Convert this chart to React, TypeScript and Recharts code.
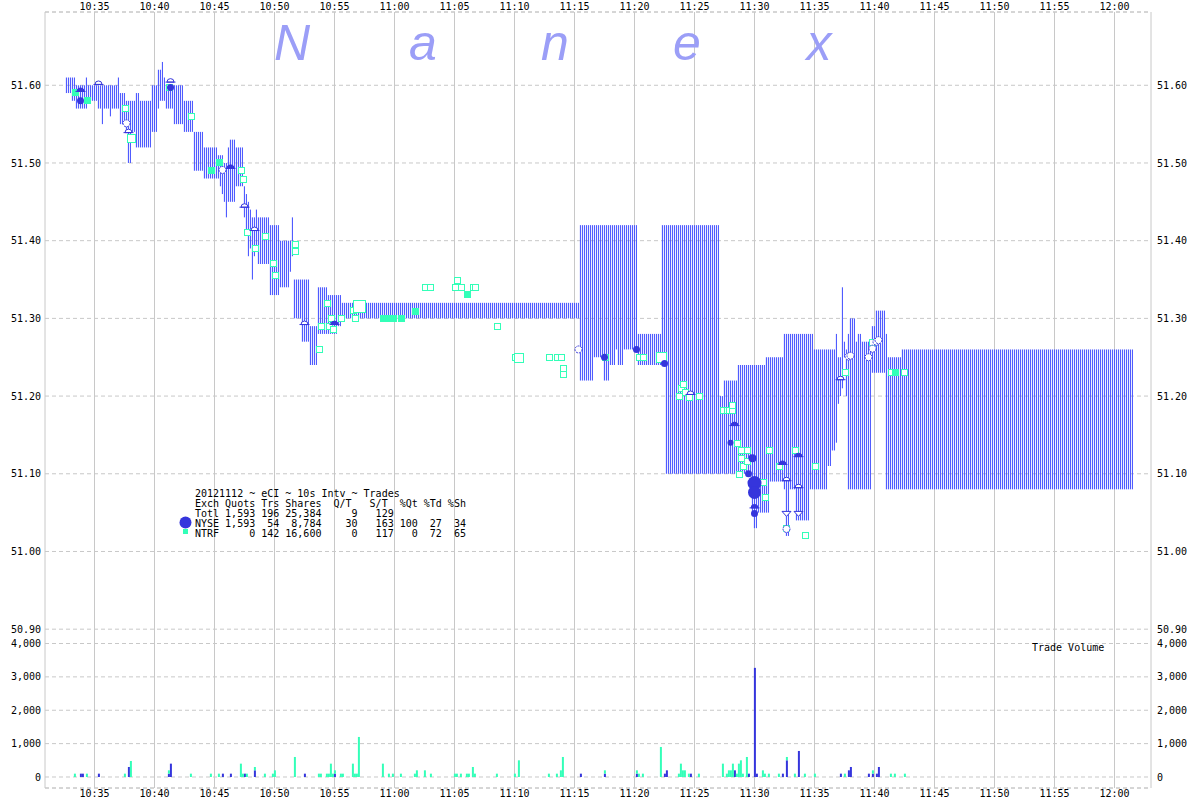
import React from 'react';
import { ComposedChart, BarChart, Bar, Scatter, XAxis, YAxis, CartesianGrid } from 'recharts';

const FONT = "'DejaVu Sans Mono', monospace";
const QUOTE_BLUE = '#3d4bff';
const NYSE_BLUE = '#3535dc';
const NTRF_TEAL = '#33ffb8';
const GRID = '#c8c8c8';

const timeTicks = ['10:35', '10:40', '10:45', '10:50', '10:55', '11:00', '11:05', '11:10', '11:15', '11:20', '11:25', '11:30', '11:35', '11:40', '11:45', '11:50', '11:55', '12:00'];
const priceTicks = [50.9, 51.0, 51.1, 51.2, 51.3, 51.4, 51.5, 51.6];
const volumeTicks = [0, 1000, 2000, 3000, 4000];

// NBBO range per 10s interval: [first interval, last interval, low, high]
const quoteRuns: [string, string, number, number][] = [
  ['10:32:40', '10:33:00', 51.59, 51.61],
  ['10:33:10', '10:33:20', 51.58, 51.61],
  ['10:33:30', '10:34:10', 51.57, 51.60],
  ['10:34:20', '10:34:20', 51.57, 51.61],
  ['10:34:30', '10:35:10', 51.58, 51.60],
  ['10:35:20', '10:35:30', 51.57, 51.60],
  ['10:35:40', '10:35:40', 51.55, 51.60],
  ['10:35:50', '10:36:10', 51.57, 51.60],
  ['10:36:20', '10:36:20', 51.56, 51.60],
  ['10:36:30', '10:36:50', 51.57, 51.60],
  ['10:37:00', '10:37:00', 51.57, 51.61],
  ['10:37:10', '10:37:30', 51.55, 51.59],
  ['10:37:40', '10:37:40', 51.54, 51.58],
  ['10:37:50', '10:38:00', 51.50, 51.58],
  ['10:38:10', '10:38:20', 51.54, 51.58],
  ['10:38:30', '10:38:40', 51.52, 51.59],
  ['10:38:50', '10:39:40', 51.52, 51.58],
  ['10:39:50', '10:40:10', 51.54, 51.60],
  ['10:40:20', '10:40:20', 51.57, 51.62],
  ['10:40:30', '10:40:30', 51.58, 51.62],
  ['10:40:40', '10:40:40', 51.58, 51.63],
  ['10:40:50', '10:40:50', 51.58, 51.61],
  ['10:41:00', '10:41:30', 51.57, 51.60],
  ['10:41:40', '10:42:20', 51.55, 51.60],
  ['10:42:30', '10:43:10', 51.54, 51.58],
  ['10:43:20', '10:44:00', 51.49, 51.54],
  ['10:44:10', '10:45:10', 51.48, 51.52],
  ['10:45:20', '10:45:20', 51.48, 51.51],
  ['10:45:30', '10:45:30', 51.47, 51.51],
  ['10:45:40', '10:45:40', 51.46, 51.51],
  ['10:45:50', '10:45:50', 51.45, 51.50],
  ['10:46:00', '10:46:00', 51.43, 51.50],
  ['10:46:10', '10:46:10', 51.45, 51.52],
  ['10:46:20', '10:46:40', 51.45, 51.53],
  ['10:46:50', '10:47:20', 51.47, 51.52],
  ['10:47:30', '10:47:30', 51.43, 51.47],
  ['10:47:40', '10:47:40', 51.41, 51.46],
  ['10:47:50', '10:47:50', 51.38, 51.45],
  ['10:48:00', '10:48:00', 51.39, 51.44],
  ['10:48:10', '10:48:10', 51.35, 51.43],
  ['10:48:20', '10:48:20', 51.38, 51.43],
  ['10:48:30', '10:48:30', 51.39, 51.44],
  ['10:48:40', '10:49:30', 51.37, 51.43],
  ['10:49:40', '10:50:20', 51.33, 51.42],
  ['10:50:30', '10:51:10', 51.34, 51.40],
  ['10:51:20', '10:51:20', 51.36, 51.40],
  ['10:51:30', '10:51:30', 51.38, 51.43],
  ['10:51:40', '10:52:10', 51.30, 51.35],
  ['10:52:20', '10:52:50', 51.27, 51.35],
  ['10:53:00', '10:53:30', 51.24, 51.29],
  ['10:53:40', '10:54:20', 51.28, 51.34],
  ['10:54:30', '10:55:10', 51.28, 51.33],
  ['10:55:20', '10:55:30', 51.29, 51.33],
  ['10:55:40', '11:15:20', 51.30, 51.32],
  ['11:15:30', '11:16:30', 51.22, 51.42],
  ['11:16:40', '11:17:20', 51.25, 51.42],
  ['11:17:30', '11:17:50', 51.22, 51.42],
  ['11:18:00', '11:18:20', 51.24, 51.42],
  ['11:18:30', '11:18:30', 51.26, 51.42],
  ['11:18:40', '11:19:00', 51.24, 51.42],
  ['11:19:10', '11:20:10', 51.26, 51.42],
  ['11:20:20', '11:22:10', 51.24, 51.28],
  ['11:22:20', '11:22:30', 51.24, 51.42],
  ['11:22:40', '11:27:00', 51.10, 51.42],
  ['11:27:10', '11:27:20', 51.10, 51.20],
  ['11:27:30', '11:28:30', 51.10, 51.22],
  ['11:28:40', '11:29:40', 51.10, 51.24],
  ['11:29:50', '11:29:50', 51.05, 51.24],
  ['11:30:00', '11:30:10', 51.03, 51.24],
  ['11:30:20', '11:30:50', 51.05, 51.24],
  ['11:31:00', '11:31:10', 51.05, 51.25],
  ['11:31:20', '11:32:20', 51.09, 51.25],
  ['11:32:30', '11:32:30', 51.08, 51.28],
  ['11:32:40', '11:32:50', 51.02, 51.28],
  ['11:33:00', '11:33:20', 51.08, 51.28],
  ['11:33:30', '11:34:30', 51.04, 51.28],
  ['11:34:40', '11:34:50', 51.08, 51.28],
  ['11:35:00', '11:36:00', 51.08, 51.26],
  ['11:36:10', '11:36:20', 51.11, 51.26],
  ['11:36:30', '11:36:40', 51.13, 51.26],
  ['11:36:50', '11:36:50', 51.14, 51.28],
  ['11:37:00', '11:37:00', 51.19, 51.25],
  ['11:37:10', '11:37:10', 51.20, 51.25],
  ['11:37:20', '11:37:20', 51.21, 51.34],
  ['11:37:30', '11:37:30', 51.25, 51.27],
  ['11:37:40', '11:37:40', 51.20, 51.26],
  ['11:37:50', '11:37:50', 51.08, 51.28],
  ['11:38:00', '11:38:20', 51.08, 51.30],
  ['11:38:30', '11:38:30', 51.08, 51.27],
  ['11:38:40', '11:38:50', 51.08, 51.28],
  ['11:39:00', '11:39:40', 51.08, 51.27],
  ['11:39:50', '11:40:00', 51.23, 51.29],
  ['11:40:10', '11:40:50', 51.23, 51.31],
  ['11:41:00', '11:41:00', 51.08, 51.28],
  ['11:41:10', '11:42:10', 51.08, 51.25],
  ['11:42:20', '12:01:30', 51.08, 51.26],
];

// trade volume per 10s interval
const nyseVolume: [string, number][] = [
  ['10:33:50', 100], ['10:34:00', 100], ['10:35:20', 100], ['10:37:50', 300], ['10:41:10', 100],
  ['10:41:20', 400], ['10:45:40', 100], ['10:46:20', 100], ['10:47:30', 100], ['10:48:20', 200],
  ['10:52:30', 100], ['10:55:00', 100], ['11:15:30', 100], ['11:17:30', 100], ['11:20:10', 100],
  ['11:22:30', 100], ['11:22:40', 200], ['11:24:40', 100], ['11:28:20', 200], ['11:29:30', 100],
  ['11:30:00', 3270], ['11:30:10', 100], ['11:32:20', 100], ['11:32:40', 500], ['11:33:40', 780],
  ['11:37:10', 100], ['11:37:50', 200], ['11:38:00', 300], ['11:39:30', 100], ['11:39:50', 100],
  ['11:40:10', 100], ['11:40:20', 300],
];
const ntrfVolume: [string, number][] = [
  ['10:33:20', 100], ['10:34:20', 100], ['10:37:30', 100], ['10:38:00', 480], ['10:41:10', 100],
  ['10:43:00', 100], ['10:44:40', 100], ['10:45:20', 100], ['10:47:10', 400], ['10:47:20', 100],
  ['10:47:40', 100], ['10:48:20', 100], ['10:49:10', 100], ['10:49:50', 100], ['10:50:00', 200],
  ['10:51:40', 600], ['10:53:40', 100], ['10:53:50', 100], ['10:54:20', 100], ['10:54:30', 100],
  ['10:54:40', 400], ['10:54:50', 100], ['10:55:00', 100], ['10:55:30', 100], ['10:55:40', 100],
  ['10:56:30', 400], ['10:56:40', 100], ['10:56:50', 100], ['10:57:00', 1200], ['10:59:00', 400],
  ['10:59:30', 100], ['10:59:50', 100], ['11:00:30', 100], ['11:01:40', 100], ['11:01:50', 200],
  ['11:02:30', 200], ['11:03:00', 100], ['11:05:00', 100], ['11:05:10', 100], ['11:05:30', 100],
  ['11:06:00', 100], ['11:06:10', 100], ['11:06:30', 300], ['11:06:40', 100], ['11:08:30', 100],
  ['11:10:00', 100], ['11:10:20', 500], ['11:12:50', 100], ['11:13:30', 100], ['11:13:50', 200],
  ['11:14:00', 600], ['11:17:30', 100], ['11:20:10', 100], ['11:20:20', 100], ['11:20:40', 100],
  ['11:22:10', 900], ['11:23:40', 100], ['11:23:50', 400], ['11:24:00', 200], ['11:24:10', 200],
  ['11:24:30', 100], ['11:25:20', 100], ['11:27:20', 400], ['11:27:40', 100], ['11:27:50', 200],
  ['11:28:00', 200], ['11:28:10', 400], ['11:28:30', 100], ['11:28:40', 400], ['11:28:50', 500],
  ['11:29:00', 100], ['11:29:20', 600], ['11:30:40', 200], ['11:30:50', 100], ['11:31:10', 100],
  ['11:32:00', 100], ['11:32:40', 100], ['11:33:20', 100], ['11:34:10', 100], ['11:35:00', 100],
  ['11:37:30', 100], ['11:39:50', 100], ['11:41:20', 100], ['11:41:40', 100], ['11:42:30', 100],
];

// NYSE trades: [time, price, radius]
const nyseDots: [string, number, number][] = [
  ['10:33:50', 51.58, 3.5], ['10:41:20', 51.597, 3.5], ['11:17:30', 51.25, 3.5], ['11:20:10', 51.26, 3.5],
  ['11:22:30', 51.242, 3.5], ['11:28:00', 51.14, 3], ['11:29:30', 51.10, 3.5], ['11:29:50', 51.12, 4],
  ['11:30:00', 51.088, 7], ['11:30:00', 51.076, 6.5], ['11:30:00', 51.049, 3.5],
];
const nyseDomesFilled: [string, number][] = [
  ['10:33:50', 51.594], ['10:46:20', 51.495], ['10:55:00', 51.294], ['11:28:20', 51.164],
  ['11:30:00', 51.058], ['11:32:20', 51.114], ['11:33:40', 51.124],
];
const nyseDomesHollow: [string, number][] = [
  ['10:35:20', 51.603], ['10:37:50', 51.541], ['10:41:20', 51.606], ['10:47:30', 51.445],
  ['10:48:20', 51.415], ['10:52:30', 51.294], ['11:24:40', 51.204], ['11:32:40', 51.093],
  ['11:33:40', 51.084], ['11:37:10', 51.223],
];
const nyseRings: [string, number][] = [
  ['10:37:40', 51.551], ['10:45:40', 51.491], ['11:15:20', 51.26], ['11:32:40', 51.029],
  ['11:37:50', 51.251], ['11:38:00', 51.252], ['11:39:30', 51.25], ['11:39:50', 51.261],
  ['11:40:10', 51.27], ['11:40:20', 51.272],
];
const nyseDownTriangles: [string, number][] = [['11:32:40', 51.049], ['11:33:40', 51.049]];

// NTRF trades: [time, price, size]
const ntrfFilled: [string, number, number][] = [
  ['10:33:20', 51.591, 7], ['10:34:20', 51.581, 7], ['10:44:40', 51.491, 7], ['10:45:20', 51.501, 7],
  ['10:59:00', 51.30, 7], ['10:59:30', 51.30, 7], ['10:59:50', 51.30, 7], ['11:00:30', 51.30, 7],
  ['11:01:40', 51.31, 7], ['11:06:00', 51.331, 7], ['11:41:40', 51.231, 7],
];
const ntrfHollow: [string, number, number][] = [
  ['10:37:30', 51.571, 7], ['10:38:00', 51.532, 9], ['10:41:10', 51.598, 7], ['10:43:00', 51.56, 7],
  ['10:47:10', 51.491, 7], ['10:47:20', 51.48, 7], ['10:47:40', 51.411, 7], ['10:48:20', 51.391, 7],
  ['10:49:10', 51.406, 7], ['10:49:50', 51.371, 7], ['10:50:00', 51.356, 7], ['10:51:40', 51.396, 7],
  ['10:51:40', 51.387, 7], ['10:53:40', 51.26, 7], ['10:53:50', 51.29, 7], ['10:54:20', 51.32, 7],
  ['10:54:30', 51.29, 7], ['10:54:40', 51.30, 7], ['10:54:50', 51.286, 7], ['10:55:30', 51.30, 7],
  ['10:56:30', 51.311, 7], ['10:56:40', 51.30, 7], ['10:57:00', 51.316, 13], ['11:02:30', 51.34, 7],
  ['11:03:00', 51.34, 7], ['11:05:00', 51.34, 7], ['11:05:10', 51.35, 7], ['11:05:30', 51.34, 7],
  ['11:06:30', 51.34, 7], ['11:06:40', 51.34, 7], ['11:08:30', 51.29, 7], ['11:10:00', 51.25, 7],
  ['11:10:20', 51.25, 10], ['11:12:50', 51.25, 7], ['11:13:30', 51.25, 7], ['11:13:50', 51.25, 7],
  ['11:14:00', 51.236, 7], ['11:14:00', 51.229, 7], ['11:17:30', 51.25, 7], ['11:20:20', 51.25, 7],
  ['11:20:40', 51.25, 7], ['11:22:10', 51.25, 11], ['11:23:40', 51.20, 7], ['11:23:50', 51.21, 7],
  ['11:24:00', 51.215, 7], ['11:24:10', 51.205, 7], ['11:24:30', 51.199, 7], ['11:25:20', 51.20, 7],
  ['11:27:20', 51.182, 7], ['11:27:40', 51.182, 7], ['11:27:50', 51.182, 7], ['11:28:10', 51.182, 7],
  ['11:28:10', 51.188, 7], ['11:28:30', 51.14, 7], ['11:28:40', 51.10, 7], ['11:28:50', 51.13, 7],
  ['11:28:50', 51.12, 7], ['11:29:00', 51.11, 7], ['11:29:20', 51.13, 7], ['11:29:20', 51.116, 7],
  ['11:30:40', 51.09, 7], ['11:30:50', 51.07, 7], ['11:31:10', 51.13, 7], ['11:32:00', 51.11, 7],
  ['11:32:40', 51.03, 7], ['11:33:20', 51.13, 7], ['11:34:10', 51.021, 7], ['11:35:00', 51.11, 7],
  ['11:37:30', 51.231, 7], ['11:39:50', 51.27, 7], ['11:41:20', 51.231, 7], ['11:42:30', 51.231, 7],
];

const legendLines = [
  '20121112 ~ eCI ~ 10s Intv ~ Trades',
  'Exch Quots Trs Shares  Q/T   S/T  %Qt %Td %Sh',
  'Totl 1,593 196 25,384     9   129',
  'NYSE 1,593  54  8,784    30   163 100  27  34',
  'NTRF     0 142 16,600     0   117   0  72  65',
];
const watermark = ['N', 'a', 'n', 'e', 'x'];

// ---------- helpers ----------
const sec = (s: string) => {
  const p = s.split(':').map(Number);
  return p[0] * 3600 + p[1] * 60 + (p[2] || 0);
};
const fmtTime = (t: number) => {
  const h = Math.floor(t / 3600);
  const m = Math.round((t - h * 3600) / 60);
  return `${h}:${String(m).padStart(2, '0')}`;
};

const X_DOMAIN: [number, number] = [37852.5, 43382.5];
const P_DOMAIN: [number, number] = [50.6956, 51.6943];
const V_DOMAIN: [number, number] = [-329.6, 22921];
const xTicks = timeTicks.map(sec);

const quoteRows: { t: number; range: [number, number] }[] = [];
quoteRuns.forEach(([a, b, lo, hi]) => {
  for (let t = sec(a); t <= sec(b); t += 10) quoteRows.push({ t, range: [lo, hi] });
});

const volMap = new Map<number, { t: number; nyse: number; ntrf: number }>();
const addVol = (list: [string, number][], key: 'nyse' | 'ntrf') =>
  list.forEach(([ts, v]) => {
    const t = sec(ts);
    if (!volMap.has(t)) volMap.set(t, { t, nyse: 0, ntrf: 0 });
    volMap.get(t)![key] = v;
  });
addVol(nyseVolume, 'nyse');
addVol(ntrfVolume, 'ntrf');
const volRows = Array.from(volMap.values()).sort((a, b) => a.t - b.t);

const pts = (list: [string, number, number?][]) => list.map(([ts, p, s]) => ({ t: sec(ts), p, s }));

// ---------- shapes ----------
const QuoteLine = (props: any) => {
  const { x, y, width, height } = props;
  if (height == null || isNaN(height)) return null;
  return <rect x={x + width / 2 - 0.5} y={y} width={1} height={Math.max(Math.abs(height), 1)} fill={QUOTE_BLUE} />;
};
const volShape = (color: string) => (props: any) => {
  const { x, y, width, height } = props;
  if (!height || height <= 0) return null;
  return <rect x={x + width / 2 - 0.5} y={y} width={2} height={height} fill={color} />;
};
const squareShape = (filled: boolean) => (props: any) => {
  const { cx, cy, payload } = props;
  const s = payload.s || 7;
  const h = (s - 1) / 2;
  return (
    <rect x={Math.round(cx - h) + 0.5} y={Math.round(cy - h) + 0.5} width={s - 1} height={s - 1}
      fill={filled ? NTRF_TEAL : '#ffffff'} stroke={NTRF_TEAL} strokeWidth={1} />
  );
};
const dotShape = (props: any) => {
  const { cx, cy, payload } = props;
  const r = payload.s || 3.5;
  return <circle cx={cx} cy={cy} r={r} fill={NYSE_BLUE} />;
};
const ringShape = (props: any) => {
  const { cx, cy } = props;
  return <circle cx={cx} cy={cy} r={3.5} fill="#ffffff" stroke={NYSE_BLUE} strokeWidth={1} strokeDasharray="2 1" />;
};
const domeShape = (filled: boolean) => (props: any) => {
  const { cx, cy } = props;
  return (
    <g>
      <path d={`M${cx - 3.5},${cy + 1.5} A3.5,3.5 0 0 1 ${cx + 3.5},${cy + 1.5} Z`}
        fill={filled ? NYSE_BLUE : '#ffffff'} stroke={NYSE_BLUE} strokeWidth={1} />
      <path d={`M${cx - 5},${cy + 1.5} H${cx + 5}`} stroke={NYSE_BLUE} strokeWidth={1} />
    </g>
  );
};
const downTriShape = (props: any) => {
  const { cx, cy } = props;
  return (
    <path d={`M${cx - 4.5},${cy - 2} H${cx + 4.5} L${cx},${cy + 3} Z`} fill="#ffffff" stroke={NYSE_BLUE} strokeWidth={1} />
  );
};

const tickStyle = { fontSize: 10, fontFamily: FONT, fill: '#000' };

export default function App() {
  return (
    <div style={{ position: 'absolute', left: 0, top: 0, width: 1200, height: 800, background: '#fff', overflow: 'hidden' }}>
      <div style={{ position: 'absolute', left: 0, top: 0 }}>
        <ComposedChart width={1200} height={800} data={quoteRows} margin={{ top: 0, right: 0, bottom: 0, left: 0 }}>
          <CartesianGrid xAxisId="b" yAxisId="pl" horizontal={false} stroke={GRID} />
          <CartesianGrid xAxisId="b" yAxisId="pl" vertical={false} stroke={GRID} strokeDasharray="4 3" />
          <XAxis xAxisId="t" orientation="top" type="number" dataKey="t" domain={X_DOMAIN} allowDataOverflow
            ticks={xTicks} interval={0} tickFormatter={fmtTime} height={12} tickLine={false} axisLine={false}
            tickSize={0} tickMargin={2} tick={tickStyle} />
          <XAxis xAxisId="b" orientation="bottom" type="number" dataKey="t" domain={X_DOMAIN} allowDataOverflow
            ticks={xTicks} interval={0} tickFormatter={fmtTime} height={12} tickLine={false} axisLine={false}
            tickSize={0} tickMargin={2} tick={tickStyle} />
          <YAxis yAxisId="pl" orientation="left" type="number" domain={P_DOMAIN} allowDataOverflow ticks={priceTicks}
            interval={0} width={45} tickFormatter={(v: number) => v.toFixed(2)} tickLine={false} axisLine={false}
            tickSize={0} tickMargin={4} tick={tickStyle} />
          <YAxis yAxisId="pr" orientation="right" type="number" domain={P_DOMAIN} allowDataOverflow ticks={priceTicks}
            interval={0} width={49} tickFormatter={(v: number) => v.toFixed(2)} tickLine={false} axisLine={false}
            tickSize={0} tickMargin={6} tick={tickStyle} />
          <Bar xAxisId="b" yAxisId="pl" dataKey="range" barSize={2} shape={QuoteLine} isAnimationActive={false} />
          <Scatter xAxisId="b" yAxisId="pl" data={pts(ntrfHollow)} dataKey="p" shape={squareShape(false)} isAnimationActive={false} />
          <Scatter xAxisId="b" yAxisId="pl" data={pts(ntrfFilled)} dataKey="p" shape={squareShape(true)} isAnimationActive={false} />
          <Scatter xAxisId="b" yAxisId="pl" data={pts(nyseRings as any)} dataKey="p" shape={ringShape} isAnimationActive={false} />
          <Scatter xAxisId="b" yAxisId="pl" data={pts(nyseDomesHollow as any)} dataKey="p" shape={domeShape(false)} isAnimationActive={false} />
          <Scatter xAxisId="b" yAxisId="pl" data={pts(nyseDownTriangles as any)} dataKey="p" shape={downTriShape} isAnimationActive={false} />
          <Scatter xAxisId="b" yAxisId="pl" data={pts(nyseDots)} dataKey="p" shape={dotShape} isAnimationActive={false} />
          <Scatter xAxisId="b" yAxisId="pl" data={pts(nyseDomesFilled as any)} dataKey="p" shape={domeShape(true)} isAnimationActive={false} />
        </ComposedChart>
      </div>
      <div style={{ position: 'absolute', left: 0, top: 0 }}>
        <BarChart width={1200} height={800} data={volRows} margin={{ top: 12, right: 0, bottom: 12, left: 0 }}>
          <CartesianGrid xAxisId="b" yAxisId="vl" vertical={false} stroke={GRID} strokeDasharray="4 3" />
          <XAxis xAxisId="b" hide type="number" dataKey="t" domain={X_DOMAIN} allowDataOverflow ticks={xTicks} />
          <YAxis yAxisId="vl" orientation="left" type="number" domain={V_DOMAIN} allowDataOverflow ticks={volumeTicks}
            interval={0} width={45} tickFormatter={(v: number) => v.toLocaleString('en-US')} tickLine={false}
            axisLine={false} tickSize={0} tickMargin={4} tick={tickStyle} />
          <YAxis yAxisId="vr" orientation="right" type="number" domain={V_DOMAIN} allowDataOverflow ticks={volumeTicks}
            interval={0} width={49} tickFormatter={(v: number) => v.toLocaleString('en-US')} tickLine={false}
            axisLine={false} tickSize={0} tickMargin={6} tick={tickStyle} />
          <Bar xAxisId="b" yAxisId="vl" dataKey="nyse" stackId="v" barSize={2} fill={NYSE_BLUE} shape={volShape(NYSE_BLUE)} isAnimationActive={false} />
          <Bar xAxisId="b" yAxisId="vl" dataKey="ntrf" stackId="v" barSize={2} fill={NTRF_TEAL} shape={volShape(NTRF_TEAL)} isAnimationActive={false} />
        </BarChart>
      </div>
      <svg width={1200} height={800} style={{ position: 'absolute', left: 0, top: 0, pointerEvents: 'none' }}>
        {watermark.map((ch, i) => (
          <text key={i} x={[292, 423, 555, 687, 819][i]} y={60} textAnchor="middle" fontFamily="'Liberation Sans', Arial, sans-serif"
            fontStyle="italic" fontSize={50} fill="#9b9ef7">{ch}</text>
        ))}
        {legendLines.map((line, i) => (
          <text key={i} x={195} y={497 + i * 10} fontFamily={FONT} fontSize={10} fill="#000" xmlSpace="preserve" style={{ whiteSpace: 'pre' }}>{line}</text>
        ))}
        <circle cx={185.5} cy={522.5} r={6} fill={NYSE_BLUE} />
        <rect x={183} y={529} width={5} height={5} fill={NTRF_TEAL} />
        <text x={1032} y={651} fontFamily={FONT} fontSize={10} fill="#000">Trade Volume</text>
      </svg>
    </div>
  );
}
